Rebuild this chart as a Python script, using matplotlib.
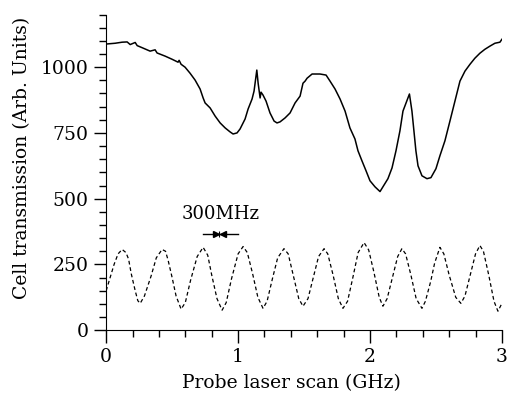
import numpy as np
import matplotlib
matplotlib.use('Agg')
import matplotlib.pyplot as plt
from matplotlib.ticker import MultipleLocator

# cell transmission (solid trace)
scanGHz = [0.0, 0.068, 0.121, 0.159, 0.182, 0.220, 0.235, 0.273, 0.333, 0.371,
           0.386, 0.447, 0.5, 0.545, 0.553, 0.568, 0.598, 0.636, 0.674, 0.712,
           0.735, 0.75, 0.788, 0.826, 0.864, 0.902, 0.939, 0.962, 0.992, 1.015,
           1.053, 1.076, 1.106, 1.121, 1.142, 1.152, 1.167, 1.174, 1.189, 1.212,
           1.242, 1.273, 1.295, 1.318, 1.356, 1.394, 1.432, 1.470, 1.492, 1.508,
           1.523, 1.561, 1.621, 1.667, 1.697, 1.735, 1.773, 1.811, 1.848, 1.886,
           1.909, 1.939, 1.970, 2.0, 2.038, 2.076, 2.098, 2.136, 2.167, 2.197,
           2.227, 2.250, 2.299, 2.318, 2.333, 2.348, 2.364, 2.394, 2.432, 2.462,
           2.5, 2.530, 2.568, 2.606, 2.644, 2.682, 2.720, 2.758, 2.795, 2.833,
           2.871, 2.909, 2.947, 2.985, 3.0]
transmission = [1088, 1091, 1095, 1096, 1086, 1094, 1082, 1074, 1061, 1066,
                1054, 1042, 1030, 1019, 1026, 1011, 1000, 977, 951, 917,
                883, 864, 845, 814, 788, 769, 754, 746, 750, 765,
                803, 841, 879, 909, 989, 939, 883, 905, 894, 871,
                826, 795, 788, 792, 807, 826, 864, 890, 939, 947,
                958, 974, 974, 970, 947, 917, 879, 833, 769, 727,
                682, 644, 606, 568, 545, 527, 545, 576, 617, 682,
                758, 833, 898, 833, 758, 682, 625, 587, 576, 580,
                614, 663, 720, 795, 871, 947, 985, 1011, 1034, 1053,
                1068, 1080, 1091, 1095, 1106]

# Fabry-Perot reference (dashed trace)
fpGHz = [0.0, 0.03, 0.06, 0.09, 0.121, 0.15, 0.17, 0.19, 0.22, 0.24, 0.258,
         0.29, 0.34, 0.38, 0.424, 0.45, 0.47, 0.50, 0.53, 0.568,
         0.60, 0.64, 0.69, 0.735, 0.77, 0.80, 0.84, 0.879,
         0.91, 0.95, 1.00, 1.038, 1.07, 1.11, 1.15, 1.189,
         1.22, 1.26, 1.30, 1.348, 1.38, 1.42, 1.46, 1.492,
         1.53, 1.57, 1.61, 1.652, 1.68, 1.72, 1.76, 1.795,
         1.83, 1.87, 1.91, 1.955, 1.99, 2.03, 2.07, 2.098,
         2.13, 2.17, 2.21, 2.242, 2.27, 2.31, 2.35, 2.394,
         2.42, 2.46, 2.49, 2.50, 2.53, 2.56, 2.60, 2.65, 2.689,
         2.72, 2.76, 2.80, 2.833, 2.86, 2.90, 2.94, 2.97, 3.0]
fpSignal = [150, 200, 250, 290, 307, 295, 270, 215, 150, 112, 102,
            130, 205, 275, 307, 300, 265, 200, 130, 80,
            105, 190, 280, 315, 285, 210, 120, 76,
            105, 195, 290, 318, 295, 215, 125, 83,
            110, 195, 275, 310, 290, 205, 120, 91,
            120, 200, 280, 310, 290, 210, 120, 83,
            110, 200, 295, 333, 305, 220, 125, 91,
            120, 200, 280, 310, 290, 210, 120, 83,
            110, 185, 255, 270, 315, 290, 210, 125, 102,
            130, 210, 290, 322, 300, 210, 110, 72, 102]

# 300 MHz marker
arrowSpan = [0.735, 1.0]
arrowLevel = 364
labelPos = (0.867, 440)

plt.rcParams['font.family'] = 'DejaVu Serif'

fig = plt.figure(figsize=(5.08, 3.94), dpi=100)
ax = fig.add_axes([0.209, 0.162, 0.779, 0.801])

ax.plot(scanGHz, transmission, color='black', linewidth=1.1)
ax.plot(fpGHz, fpSignal, color='black', linewidth=0.9, linestyle=(0, (3, 2.2)))

# arrows pointing in toward the centre, small bar between them
ax.plot(arrowSpan, [arrowLevel, arrowLevel], color='black', linewidth=1.0)
ax.plot([0.83], [arrowLevel], marker='>', color='black', markersize=4.5)
ax.plot([0.885], [arrowLevel], marker='<', color='black', markersize=4.5)
ax.plot([0.858], [arrowLevel], marker='|', color='black', markersize=4, markeredgewidth=0.8)
ax.text(labelPos[0], labelPos[1], '300MHz', ha='center', va='center', fontsize=13)

ax.set_xlim(0, 3)
ax.set_ylim(0, 1200)
ax.set_xticks([0, 1, 2, 3])
ax.set_yticks([0, 250, 500, 750, 1000])
ax.xaxis.set_minor_locator(MultipleLocator(0.2))
ax.yaxis.set_minor_locator(MultipleLocator(50))
ax.tick_params(which='major', direction='out', length=9, width=1, labelsize=13.5)
ax.tick_params(which='minor', direction='out', length=5, width=1)
ax.spines['top'].set_visible(False)
ax.spines['right'].set_visible(False)
ax.set_xlabel('Probe laser scan (GHz)', fontsize=13.5)
ax.set_ylabel('Cell transmission (Arb. Units)', fontsize=13.5)
ax.xaxis.set_label_coords(0.467, -0.138)
ax.yaxis.set_label_coords(-0.19, 0.545)

fig.savefig('out.png', dpi=100)
